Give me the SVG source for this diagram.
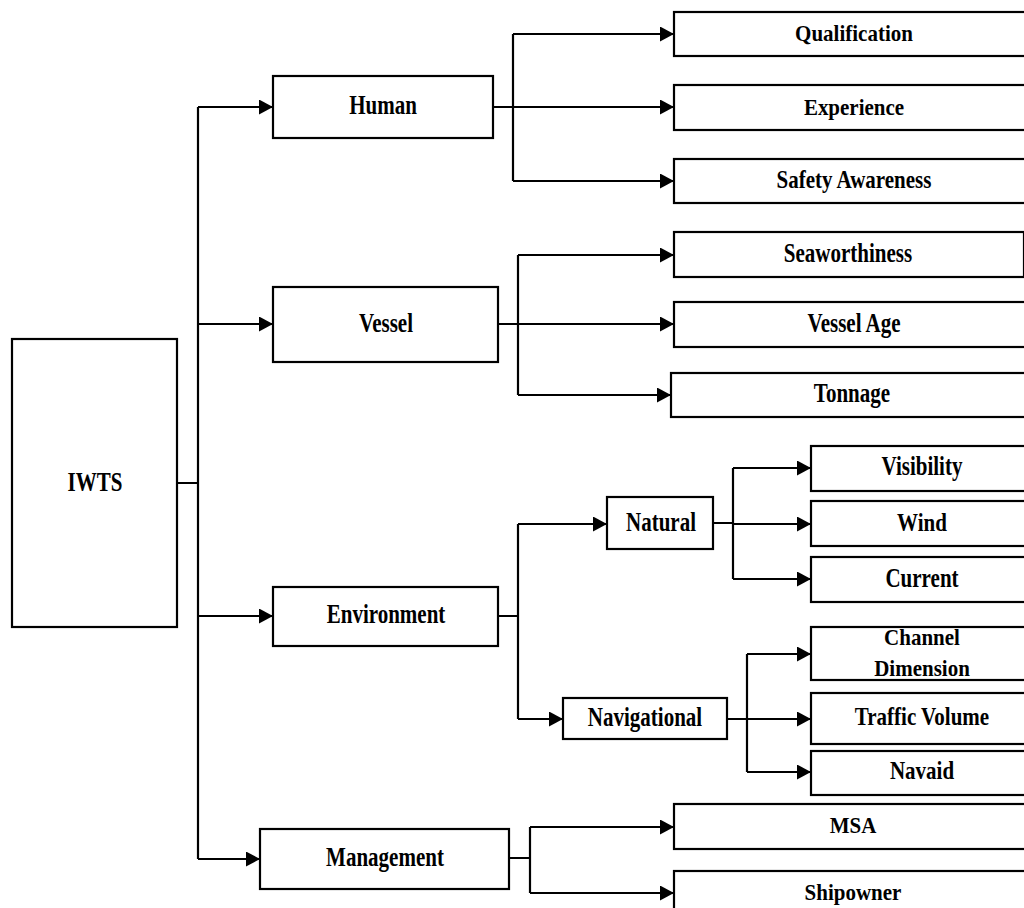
<svg xmlns="http://www.w3.org/2000/svg" width="1024" height="908" viewBox="0 0 1024 908">
<style>
.box{fill:#fff;stroke:#000;stroke-width:2.2}
.ln{fill:none;stroke:#000;stroke-width:2.2}
.ar{fill:none;stroke:#000;stroke-width:2.2;marker-end:url(#ah)}
text{font-family:"Liberation Serif","Times New Roman",serif;font-weight:bold;font-size:21px;text-anchor:middle;fill:#000}
</style>
<defs>
<marker id="ah" markerUnits="userSpaceOnUse" markerWidth="15" markerHeight="16" refX="14" refY="7.5" orient="auto">
<path d="M0,0 L14,7.5 L0,15 Z" fill="#000"/>
</marker>
</defs>
<rect width="1024" height="908" fill="#fff"/>
<g id="connectors">
<path class="ln" d="M177,483 H198 M198,107 V859"/>
<path class="ar" d="M198,107 H273"/>
<path class="ar" d="M198,324 H273"/>
<path class="ar" d="M198,616 H273"/>
<path class="ar" d="M198,859 H260"/>
<path class="ln" d="M493,107 H513 M513,34 V181"/>
<path class="ar" d="M513,34 H674"/>
<path class="ar" d="M513,107 H674"/>
<path class="ar" d="M513,181 H674"/>
<path class="ln" d="M498,324 H518 M518,255 V395"/>
<path class="ar" d="M518,255 H674"/>
<path class="ar" d="M518,324 H674"/>
<path class="ar" d="M518,395 H671"/>
<path class="ln" d="M498,616 H518 M518,524 V719"/>
<path class="ar" d="M518,524 H607"/>
<path class="ar" d="M518,719 H563"/>
<path class="ln" d="M713,523 H733 M733,468 V579"/>
<path class="ar" d="M733,468 H811"/>
<path class="ar" d="M733,524 H811"/>
<path class="ar" d="M733,579 H811"/>
<path class="ln" d="M727,719 H747 M747,654 V772"/>
<path class="ar" d="M747,654 H811"/>
<path class="ar" d="M747,719 H811"/>
<path class="ar" d="M747,772 H811"/>
<path class="ln" d="M509,858 H530 M530,827 V893"/>
<path class="ar" d="M530,827 H674"/>
<path class="ar" d="M530,893 H674"/>
</g>
<g id="iwts"><rect class="box" x="12" y="339" width="165" height="288"/><text transform="translate(95,491) scale(1,1.25)">IWTS</text></g>
<g id="human"><rect class="box" x="273" y="76" width="220" height="62"/><text transform="translate(383,114) scale(1,1.25)">Human</text></g>
<g id="vessel"><rect class="box" x="273" y="287" width="225" height="75"/><text transform="translate(386,332) scale(1,1.25)">Vessel</text></g>
<g id="environment"><rect class="box" x="273" y="587" width="225" height="59"/><text transform="translate(386,623) scale(1,1.25)">Environment</text></g>
<g id="management"><rect class="box" x="260" y="829" width="249" height="60"/><text transform="translate(385,866) scale(1,1.25)">Management</text></g>
<g id="qualification"><rect class="box" x="674" y="12" width="360" height="44"/><text transform="translate(854,41) scale(1,1.07)">Qualification</text></g>
<g id="experience"><rect class="box" x="674" y="85" width="360" height="45"/><text transform="translate(854,115) scale(1,1.07)">Experience</text></g>
<g id="safety-awareness"><rect class="box" x="674" y="159" width="360" height="44"/><text transform="translate(854,188) scale(1,1.15)">Safety Awareness</text></g>
<g id="seaworthiness"><rect class="box" x="674" y="232" width="350" height="45"/><text transform="translate(848,262) scale(1,1.25)">Seaworthiness</text></g>
<g id="vessel-age"><rect class="box" x="674" y="302" width="360" height="45"/><text transform="translate(854,332) scale(1,1.25)">Vessel Age</text></g>
<g id="tonnage"><rect class="box" x="671" y="373" width="363" height="44"/><text transform="translate(852,402) scale(1,1.25)">Tonnage</text></g>
<g id="natural"><rect class="box" x="607" y="497" width="106" height="52"/><text transform="translate(661,531) scale(1,1.25)">Natural</text></g>
<g id="visibility"><rect class="box" x="811" y="446" width="223" height="45"/><text transform="translate(922,475) scale(1,1.25)">Visibility</text></g>
<g id="wind"><rect class="box" x="811" y="501" width="223" height="45"/><text transform="translate(922,531) scale(1,1.2)">Wind</text></g>
<g id="current"><rect class="box" x="811" y="557" width="223" height="45"/><text transform="translate(922,587) scale(1,1.25)">Current</text></g>
<g id="navigational"><rect class="box" x="563" y="698" width="164" height="41"/><text transform="translate(645,726) scale(1,1.25)">Navigational</text></g>
<g id="channel-dimension"><rect class="box" x="811" y="627" width="223" height="53"/><text transform="translate(922,645) scale(1,1.12)">Channel</text><text transform="translate(922,676) scale(1,1.1)">Dimension</text></g>
<g id="traffic-volume"><rect class="box" x="811" y="693" width="223" height="51"/><text transform="translate(922,725) scale(1,1.2)">Traffic Volume</text></g>
<g id="navaid"><rect class="box" x="811" y="751" width="223" height="44"/><text transform="translate(922,779) scale(1,1.2)">Navaid</text></g>
<g id="msa"><rect class="box" x="674" y="804" width="360" height="45"/><text transform="translate(853,833) scale(1,1.13)">MSA</text></g>
<g id="shipowner"><rect class="box" x="674" y="871" width="360" height="50"/><text transform="translate(853,900) scale(1,1.13)">Shipowner</text></g>
</svg>
